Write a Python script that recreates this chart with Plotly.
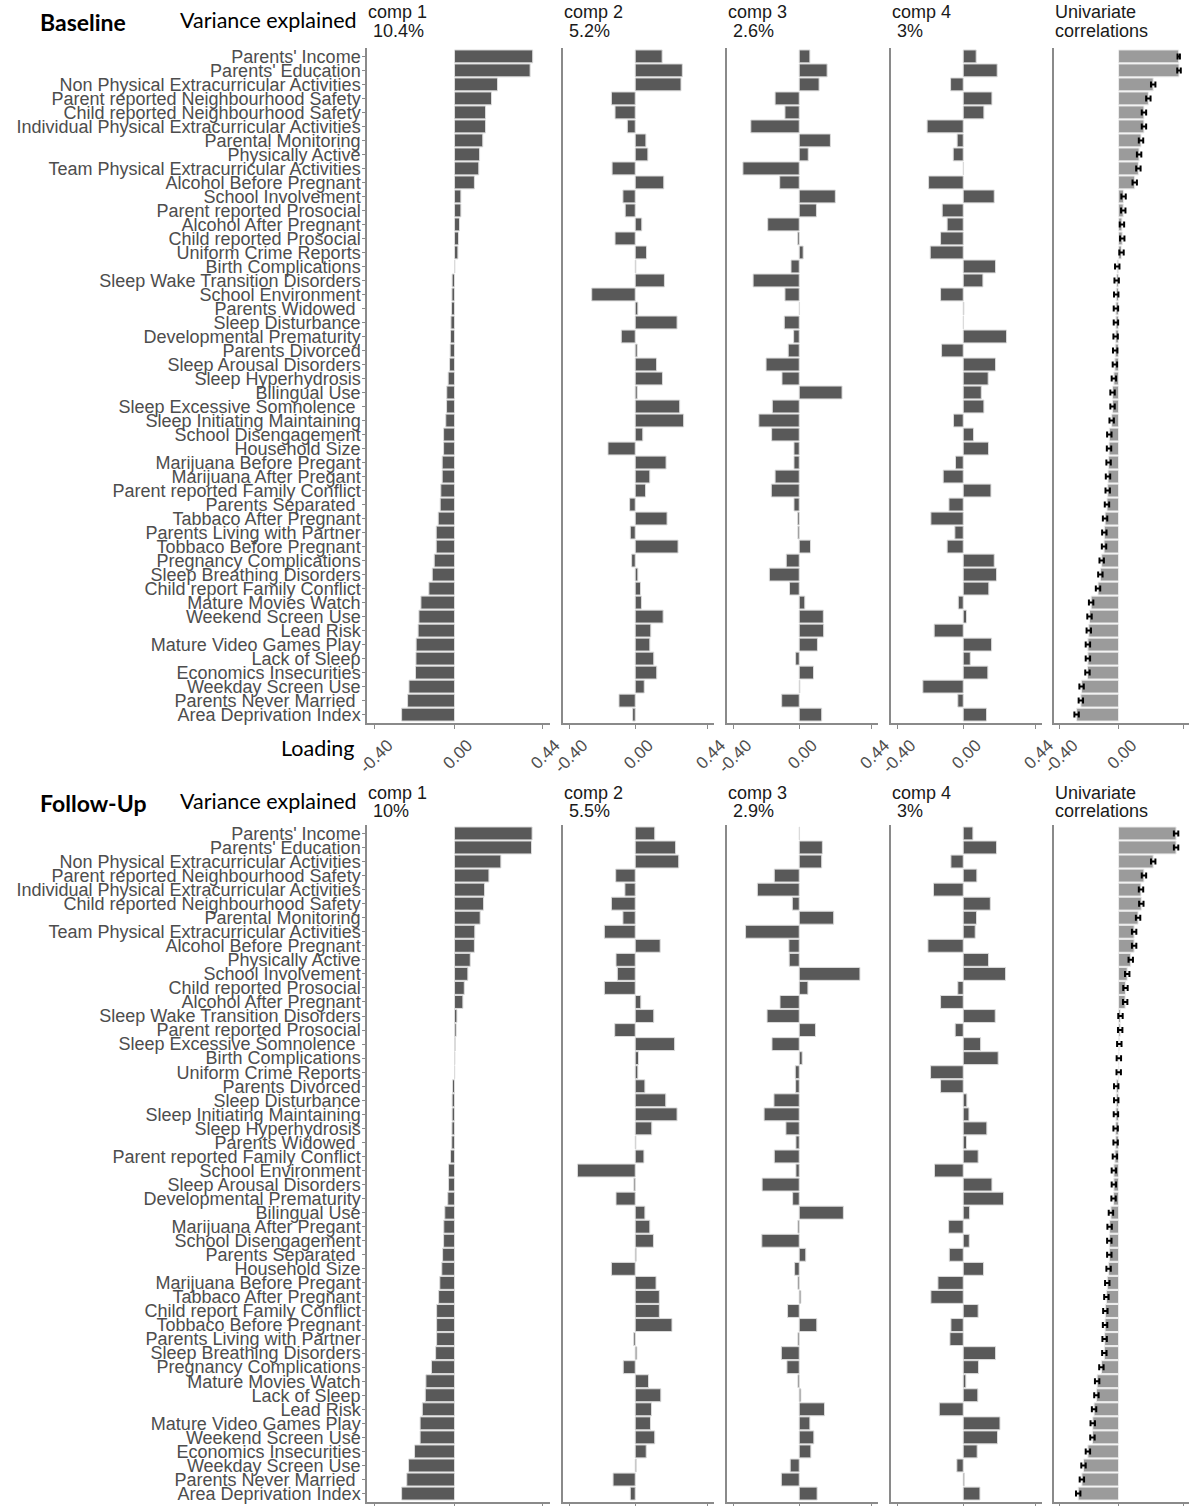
import plotly.graph_objects as go

NB = "\u00a0"
# ---------------- Baseline ----------------
base_labels = [
    "Parents' Income", "Parents' Education", "Non Physical Extracurricular Activities",
    "Parent reported Neighbourhood Safety", "Child reported Neighbourhood Safety",
    "Individual Physical Extracurricular Activities", "Parental Monitoring", "Physically Active",
    "Team Physical Extracurricular Activities", "Alcohol Before Pregnant", "School Involvement",
    "Parent reported Prosocial", "Alcohol After Pregnant", "Child reported Prosocial",
    "Uniform Crime Reports", "Birth Complications", "Sleep Wake Transition Disorders",
    "School Environment", "Parents Widowed" + NB, "Sleep Disturbance", "Developmental Prematurity",
    "Parents Divorced", "Sleep Arousal Disorders", "Sleep Hyperhydrosis", "Bilingual Use",
    "Sleep Excessive Somnolence" + NB, "Sleep Initiating Maintaining", "School Disengagement",
    "Household Size", "Marijuana Before Pregant", "Marijuana After Pregant",
    "Parent reported Family Conflict", "Parents Separated" + NB, "Tabbaco After Pregnant",
    "Parents Living with Partner", "Tobbaco Before Pregnant", "Pregnancy Complications",
    "Sleep Breathing Disorders", "Child report Family Conflict", "Mature Movies Watch",
    "Weekend Screen Use", "Lead Risk", "Mature Video Games Play", "Lack of Sleep",
    "Economics Insecurities", "Weekday Screen Use", "Parents Never Married" + NB, "Area Deprivation Index",
]
base_comp1 = [0.393, 0.380, 0.216, 0.186, 0.156, 0.156, 0.142, 0.126, 0.122, 0.100,
              0.032, 0.032, 0.025, 0.020, 0.017, 0.002, -0.012, -0.013, -0.015, -0.018,
              -0.020, -0.022, -0.025, -0.032, -0.039, -0.040, -0.044, -0.055, -0.055, -0.062,
              -0.062, -0.069, -0.072, -0.082, -0.092, -0.092, -0.102, -0.112, -0.129, -0.169,
              -0.179, -0.183, -0.193, -0.194, -0.196, -0.229, -0.236, -0.266]
base_comp2 = [0.164, 0.287, 0.279, -0.145, -0.123, -0.048, 0.065, 0.077, -0.141, 0.174,
              -0.075, -0.061, 0.040, -0.123, 0.069, 0.004, 0.178, -0.265, 0.016, 0.255,
              -0.085, 0.012, 0.130, 0.166, 0.012, 0.271, 0.295, 0.046, -0.166, 0.188,
              0.089, 0.063, -0.034, 0.194, -0.030, 0.261, -0.022, 0.016, 0.032, 0.038,
              0.170, 0.095, 0.089, 0.113, 0.131, 0.055, -0.099, -0.016]
base_comp3 = [0.065, 0.170, 0.121, -0.147, -0.087, -0.295, 0.190, 0.055, -0.343, -0.119,
              0.220, 0.105, -0.192, -0.010, 0.024, -0.050, -0.281, -0.087, 0.002, -0.091,
              -0.034, -0.067, -0.202, -0.105, 0.261, -0.164, -0.246, -0.168, -0.032, -0.032,
              -0.147, -0.170, -0.032, -0.010, -0.008, 0.069, -0.079, -0.182, -0.059, 0.034,
              0.147, 0.149, 0.111, -0.022, 0.087, 0.004, -0.107, 0.137]
base_comp4 = [0.079, 0.207, -0.077, 0.175, 0.126, -0.220, -0.037, -0.061, 0.002, -0.211,
              0.189, -0.128, -0.098, -0.138, -0.201, 0.197, 0.120, -0.138, 0.004, 0.002,
              0.264, -0.132, 0.197, 0.152, 0.110, 0.126, -0.059, 0.063, 0.154, -0.047,
              -0.122, 0.169, -0.087, -0.197, -0.051, -0.098, 0.189, 0.203, 0.156, -0.030,
              0.020, -0.177, 0.173, 0.043, 0.150, -0.246, -0.033, 0.142]
base_univ = [0.410, 0.412, 0.236, 0.203, 0.173, 0.173, 0.153, 0.140, 0.135, 0.110,
             0.034, 0.032, 0.023, 0.025, 0.020, -0.009, -0.013, -0.016, -0.018, -0.018,
             -0.020, -0.023, -0.025, -0.032, -0.041, -0.041, -0.047, -0.063, -0.065, -0.068,
             -0.072, -0.074, -0.079, -0.092, -0.097, -0.099, -0.115, -0.124, -0.140, -0.187,
             -0.198, -0.203, -0.209, -0.209, -0.212, -0.252, -0.257, -0.286]
base_univ_err = [0.008, 0.012, 0.015, 0.015, 0.015, 0.015, 0.015, 0.015, 0.015, 0.015,
                 0.015, 0.015, 0.015, 0.015, 0.015, 0.015, 0.015, 0.015, 0.015, 0.015,
                 0.015, 0.015, 0.015, 0.015, 0.015, 0.015, 0.015, 0.015, 0.015, 0.015,
                 0.015, 0.015, 0.015, 0.015, 0.015, 0.015, 0.015, 0.015, 0.015, 0.015,
                 0.015, 0.015, 0.015, 0.015, 0.015, 0.015, 0.015, 0.015]
base_var = ["10.4%", "5.2%", "2.6%", "3%"]

# ---------------- Follow-Up ----------------
fu_labels = [
    "Parents' Income", "Parents' Education", "Non Physical Extracurricular Activities",
    "Parent reported Neighbourhood Safety", "Individual Physical Extracurricular Activities",
    "Child reported Neighbourhood Safety", "Parental Monitoring",
    "Team Physical Extracurricular Activities", "Alcohol Before Pregnant", "Physically Active",
    "School Involvement", "Child reported Prosocial", "Alcohol After Pregnant",
    "Sleep Wake Transition Disorders", "Parent reported Prosocial", "Sleep Excessive Somnolence" + NB,
    "Birth Complications", "Uniform Crime Reports", "Parents Divorced", "Sleep Disturbance",
    "Sleep Initiating Maintaining", "Sleep Hyperhydrosis", "Parents Widowed" + NB,
    "Parent reported Family Conflict", "School Environment", "Sleep Arousal Disorders",
    "Developmental Prematurity", "Bilingual Use", "Marijuana After Pregant",
    "School Disengagement", "Parents Separated" + NB, "Household Size", "Marijuana Before Pregant",
    "Tabbaco After Pregnant", "Child report Family Conflict", "Tobbaco Before Pregnant",
    "Parents Living with Partner", "Sleep Breathing Disorders", "Pregnancy Complications",
    "Mature Movies Watch", "Lack of Sleep", "Lead Risk", "Mature Video Games Play",
    "Weekend Screen Use", "Economics Insecurities", "Weekday Screen Use",
    "Parents Never Married" + NB, "Area Deprivation Index",
]
fu_comp1 = [0.390, 0.387, 0.233, 0.173, 0.151, 0.146, 0.129, 0.102, 0.100, 0.079,
            0.067, 0.049, 0.042, 0.012, 0.008, 0.005, 0.002, 0.001, -0.010, -0.012,
            -0.012, -0.013, -0.014, -0.020, -0.030, -0.030, -0.034, -0.049, -0.054, -0.055,
            -0.060, -0.064, -0.074, -0.080, -0.090, -0.090, -0.090, -0.095, -0.116, -0.144,
            -0.147, -0.162, -0.173, -0.173, -0.201, -0.231, -0.240, -0.266]
fu_comp2 = [0.119, 0.246, 0.265, -0.119, -0.063, -0.145, -0.075, -0.188, 0.152, -0.117,
            -0.109, -0.188, 0.034, 0.113, -0.125, 0.240, 0.020, 0.016, 0.059, 0.186,
            0.255, 0.101, 0.004, 0.053, -0.352, -0.008, -0.117, 0.059, 0.089, 0.111,
            0.006, -0.145, 0.127, 0.147, 0.147, 0.224, -0.010, 0.010, -0.073, 0.081,
            0.156, 0.099, 0.093, 0.119, 0.067, 0.006, -0.135, -0.030]
fu_comp3 = [0.002, 0.141, 0.137, -0.152, -0.255, -0.042, 0.210, -0.327, -0.063, -0.061,
            0.370, 0.053, -0.117, -0.196, 0.099, -0.166, 0.018, -0.024, -0.022, -0.154,
            -0.214, -0.081, -0.020, -0.152, -0.020, -0.226, -0.040, 0.269, -0.008, -0.228,
            0.040, -0.028, -0.008, 0.010, -0.071, 0.107, -0.008, -0.109, -0.075, -0.008,
            0.010, 0.154, 0.065, 0.089, 0.071, -0.055, -0.109, 0.109]
fu_comp4 = [0.059, 0.203, -0.075, 0.083, -0.181, 0.165, 0.081, 0.073, -0.215, 0.154,
            0.258, -0.033, -0.138, 0.195, -0.049, 0.106, 0.213, -0.199, -0.138, 0.022,
            0.035, 0.144, 0.020, 0.091, -0.175, 0.175, 0.246, 0.039, -0.089, 0.037,
            -0.085, 0.124, -0.154, -0.197, 0.091, -0.075, -0.081, 0.197, 0.093, 0.016,
            0.089, -0.146, 0.224, 0.209, 0.085, -0.039, 0.008, 0.102]
fu_univ = [0.392, 0.392, 0.236, 0.173, 0.153, 0.155, 0.133, 0.106, 0.106, 0.083,
           0.059, 0.047, 0.045, 0.013, 0.011, 0.005, 0.002, 0.001, -0.016, -0.016,
           -0.018, -0.020, -0.020, -0.025, -0.032, -0.032, -0.034, -0.052, -0.061, -0.063,
           -0.063, -0.068, -0.077, -0.083, -0.090, -0.092, -0.095, -0.097, -0.117, -0.146,
           -0.151, -0.167, -0.176, -0.178, -0.209, -0.239, -0.250, -0.275]
fu_univ_err = [0.015, 0.015, 0.015, 0.015, 0.015, 0.015, 0.015, 0.015, 0.015, 0.015,
               0.015, 0.015, 0.015, 0.015, 0.015, 0.015, 0.015, 0.015, 0.015, 0.015,
               0.015, 0.015, 0.015, 0.015, 0.015, 0.015, 0.015, 0.015, 0.015, 0.015,
               0.015, 0.015, 0.015, 0.015, 0.015, 0.015, 0.015, 0.015, 0.015, 0.015,
               0.015, 0.015, 0.015, 0.015, 0.015, 0.015, 0.015, 0.015]
fu_var = ["10%", "5.5%", "2.9%", "3%"]

x_ticks = [-0.40, 0.00, 0.44]
x_ticktext = ["-0.40", "0.00", "0.44"]

# ---------------- Layout helpers ----------------
W, H = 1200, 1506
FONT = "Liberation Sans, Arial, sans-serif"
AXCOL = "#8a8a8a"
TXTCOL = "#4d4d4d"
XPX = [(367, 550), (563, 714), (727, 878), (891, 1042), (1054, 1189)]

blocks = [
    dict(name="Baseline", labels=base_labels,
         comps=[base_comp1, base_comp2, base_comp3, base_comp4],
         univ=base_univ, err=base_univ_err, var=base_var,
         ypx=(48, 723), title_y=(12, 31), head_y=22, loading=True),
    dict(name="Follow-Up", labels=fu_labels,
         comps=[fu_comp1, fu_comp2, fu_comp3, fu_comp4],
         univ=fu_univ, err=fu_univ_err, var=fu_var,
         ypx=(825, 1502), title_y=(793, 811), head_y=803, loading=False),
]

fig = go.Figure()
layout = {}
annotations = []


def px_x(p):
    return min(1.0, max(0.0, p / W))


def px_y(p):
    return min(1.0, max(0.0, 1 - p / H))


for b, blk in enumerate(blocks):
    n = len(blk["labels"])
    for p in range(5):
        idx = b * 5 + p + 1
        xs = "x" if idx == 1 else f"x{idx}"
        ys = "y" if idx == 1 else f"y{idx}"
        if p < 4:
            fig.add_trace(go.Bar(
                x=blk["comps"][p], y=blk["labels"], orientation="h",
                xaxis=xs, yaxis=ys,
                marker=dict(color="#595959", line=dict(color="#dcdcdc", width=1)),
                hoverinfo="x+y",
            ))
        else:
            fig.add_trace(go.Bar(
                x=blk["univ"], y=blk["labels"], orientation="h",
                xaxis=xs, yaxis=ys,
                marker=dict(color="#9b9b9b", line=dict(color="#ececec", width=1)),
                error_x=dict(type="data", array=blk["err"], color="black", thickness=2, width=3),
                hoverinfo="x+y",
            ))
        xk = "xaxis" if idx == 1 else f"xaxis{idx}"
        yk = "yaxis" if idx == 1 else f"yaxis{idx}"
        layout[xk] = dict(
            domain=[px_x(XPX[p][0]), px_x(XPX[p][1])], range=[-0.44, 0.48],
            anchor=ys, showline=True, linecolor=AXCOL, linewidth=1.5,
            showgrid=False, zeroline=False, automargin=False,
            tickmode="array", tickvals=x_ticks, ticktext=x_ticktext,
            ticks="outside", ticklen=4, tickcolor=AXCOL, tickwidth=1.2,
            tickangle=-45, tickfont=dict(family=FONT, size=17, color=TXTCOL),
            ticklabelshift=13, ticklabelstandoff=0, fixedrange=True,
        )
        layout[yk] = dict(
            domain=[px_y(blk["ypx"][1]), px_y(blk["ypx"][0])],
            anchor=xs, type="category", categoryorder="array",
            categoryarray=blk["labels"], range=[n - 1 + 0.6, -0.6],
            tickmode="array", tickvals=blk["labels"], ticktext=blk["labels"],
            showline=True, linecolor=AXCOL, linewidth=1.5,
            showgrid=False, zeroline=False, automargin=False,
            ticks="outside" if p == 0 else "", ticklen=3, tickcolor=AXCOL,
            showticklabels=(p == 0), ticklabelstandoff=-2,
            tickfont=dict(family=FONT, size=18, color=TXTCOL), fixedrange=True,
        )
        if p < 4:
            t1, t2 = f"comp {p + 1}", NB + blk["var"][p]
        else:
            t1, t2 = "Univariate", "correlations"
        for txt, ty in ((t1, blk["title_y"][0]), (t2, blk["title_y"][1])):
            annotations.append(dict(
                text=txt, x=px_x(XPX[p][0] - 1), y=px_y(ty), xref="paper", yref="paper",
                xanchor="left", yanchor="middle", showarrow=False,
                font=dict(family=FONT, size=18, color="#1a1a1a"),
            ))
    annotations.append(dict(
        text=f"<b>{blk['name']}</b>", x=px_x(38), y=px_y(blk["head_y"]),
        xref="paper", yref="paper", xanchor="left", yanchor="middle", showarrow=False,
        font=dict(family="Lato, sans-serif", size=23, color="black"),
    ))
    annotations.append(dict(
        text="Variance explained", x=px_x(359), y=px_y(blk["head_y"] - 2),
        xref="paper", yref="paper", xanchor="right", yanchor="middle", showarrow=False,
        font=dict(family="Lato, sans-serif", size=21.5, color="black"),
    ))
    if blk["loading"]:
        annotations.append(dict(
            text="Loading", x=px_x(357), y=px_y(748),
            xref="paper", yref="paper", xanchor="right", yanchor="middle", showarrow=False,
            font=dict(family="Lato, sans-serif", size=21.5, color="black"),
        ))

fig.update_layout(
    width=W, height=H, template="none",
    margin=dict(l=0, r=0, t=0, b=0),
    paper_bgcolor="white", plot_bgcolor="white",
    showlegend=False, bargap=0.08,
    annotations=annotations, **layout,
)
fig.write_html("out.html", config={"displayModeBar": False},
               post_script="document.body.style.margin='0';")
